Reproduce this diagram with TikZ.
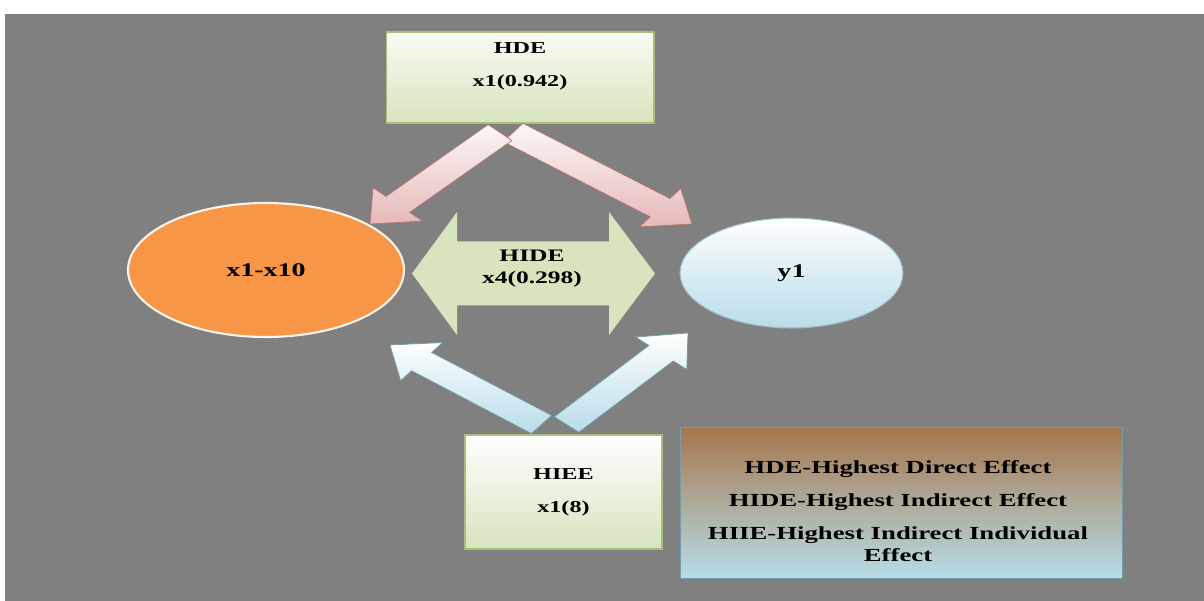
\documentclass[tikz,border=0pt]{standalone}
\usepackage{fontspec}
\setmainfont{Liberation Serif}[FakeStretch=1.45]
\usepackage{xcolor}
\usetikzlibrary{shapes.geometric, shadows, calc}
\definecolor{bg-gray}{HTML}{808080}
\definecolor{box-green}{HTML}{D7E4BD}
\definecolor{box-edge}{HTML}{A9BE7B}
\definecolor{arrow-pink}{HTML}{E6B9B8}
\definecolor{pink-edge}{HTML}{B77371}
\definecolor{node-orange}{HTML}{F79646}
\definecolor{node-blue}{HTML}{B7DDE8}
\definecolor{blue-edge}{HTML}{6F9FAD}
\definecolor{legend-brown}{HTML}{A6764C}
\newcommand\boxfont{\fontsize{9.5}{11.4}\selectfont\bfseries}
\newcommand\ellfont{\fontsize{11}{13}\selectfont\bfseries}
\newcommand\legfont{\fontsize{10.5}{12.5}\selectfont\bfseries}
\def\fatsw{6.5pt}
\def\fathw{13.6pt}
\def\fathl{15.6pt}
% block arrow from #2 (tail) to #3 (tip), the picture is 1.45 times wider than tall
\newcommand\fatarrow[3]{%
  \path[#1] let \p1=(#2), \p2=(#3),
      \n1={veclen((\x2-\x1)/1.45,\y2-\y1)},
      \n2={(\x2-\x1)/1.45/\n1}, \n3={(\y2-\y1)/\n1},
      \p3=({\x2-1.45*\fathl*(\n2)},{\y2-\fathl*(\n3)})
    in ({\x1-1.45*\fatsw*(\n3)},{\y1+\fatsw*(\n2)})
    -- ({\x3-1.45*\fatsw*(\n3)},{\y3+\fatsw*(\n2)})
    -- ({\x3-1.45*\fathw*(\n3)},{\y3+\fathw*(\n2)}) -- (\p2)
    -- ({\x3+1.45*\fathw*(\n3)},{\y3-\fathw*(\n2)})
    -- ({\x3+1.45*\fatsw*(\n3)},{\y3-\fatsw*(\n2)})
    -- ({\x1+1.45*\fatsw*(\n3)},{\y1-\fatsw*(\n2)}) -- cycle;}

\begin{document}
\begin{tikzpicture}[x=0.02cm, y=-0.02cm,
      every node/.style={font=\boxfont, text=black},
      greenbox/.style={draw=box-edge, line width=0.6pt,
          top color=white!85!box-green, bottom color=box-green,
          drop shadow={shadow xshift=1.5pt, shadow yshift=-1.5pt, opacity=0.45}},
      pinkarrow/.style={draw=pink-edge, line width=0.4pt,
          top color=white!88!arrow-pink, bottom color=arrow-pink},
      bluearrow/.style={draw=blue-edge, line width=0.4pt,
          top color=white, bottom color=node-blue}]
    \useasboundingbox (0,0) rectangle (1204,601);
    \fill[white] (0,0) rectangle (1204,601);
    \fill[bg-gray] (5,14) rectangle (1204,601);

    \node[ellipse, draw=white!90!node-orange, line width=1.2pt, fill=node-orange,
          minimum width=5.52cm, minimum height=2.68cm, font=\ellfont]
          (xin) at (266,270) {x1-x10};
    \node[ellipse, draw=blue-edge!70, line width=0.6pt,
          top color=white, bottom color=node-blue,
          minimum width=4.46cm, minimum height=2.2cm, font=\ellfont]
          (yout) at (791.5,273) {y1};

    \node[greenbox, minimum width=5.36cm, minimum height=1.82cm] (hde) at (520,77.5) {};
    \node[align=center] (hdelbl) at (520,66) {HDE\\[7.4pt]x1(0.942)};
    \node[greenbox, top color=white, minimum width=3.94cm, minimum height=2.28cm,
          align=center] (hiee) at (563.5,492) {HIEE\\[7.4pt]x1(8)};

    \coordinate (pl0) at ($(hde.south)+(-20,9)$);
    \coordinate (pl1) at (370,224);
    \coordinate (pr0) at ($(hde.south)+(-7,9)$);
    \coordinate (pr1) at (692,224);
    \fatarrow{pinkarrow}{pr0}{pr1}
    \fatarrow{pinkarrow}{pl0}{pl1}

    \coordinate (bl0) at ($(hiee.north)+(-22,-10)$);
    \coordinate (bl1) at (390,345);
    \coordinate (br0) at ($(hiee.north)+(3,-10)$);
    \coordinate (br1) at (688,333);
    \fatarrow{bluearrow}{bl0}{bl1}
    \fatarrow{bluearrow}{br0}{br1}

    \coordinate (hidel) at (412,273.5);
    \coordinate (hider) at (655,273.5);
    \path[left color=box-green, middle color=white!75!box-green, right color=box-green]
      (hidel) -- ++(45,-61.5) -- ++(0,29.5) -- ($(hider)+(-46,-32)$) -- ++(0,-29.5)
      -- (hider) -- ++(-46,61.5) -- ++(0,-29.5) -- ($(hidel)+(45,32)$) -- ++(0,29.5)
      -- cycle;
    \node[align=center, font=\fontsize{10}{12.5}\selectfont\bfseries]
          (hidelbl) at (532,269) {HIDE\\x4(0.298)};

    \node[draw=blue-edge, line width=0.5pt, top color=legend-brown, bottom color=node-blue,
          minimum width=8.84cm, minimum height=3.02cm,
          drop shadow={shadow xshift=1.5pt, shadow yshift=-1.5pt, opacity=0.45}]
          (legend) at (901,502.5) {};
    \node[align=center, font=\legfont] (legtxt) at (898,511)
          {HDE-Highest Direct Effect\\[6.3pt]
           HIDE-Highest Indirect Effect\\[6.3pt]
           HIIE-Highest Indirect Individual\\Effect};
\end{tikzpicture}
\end{document}
